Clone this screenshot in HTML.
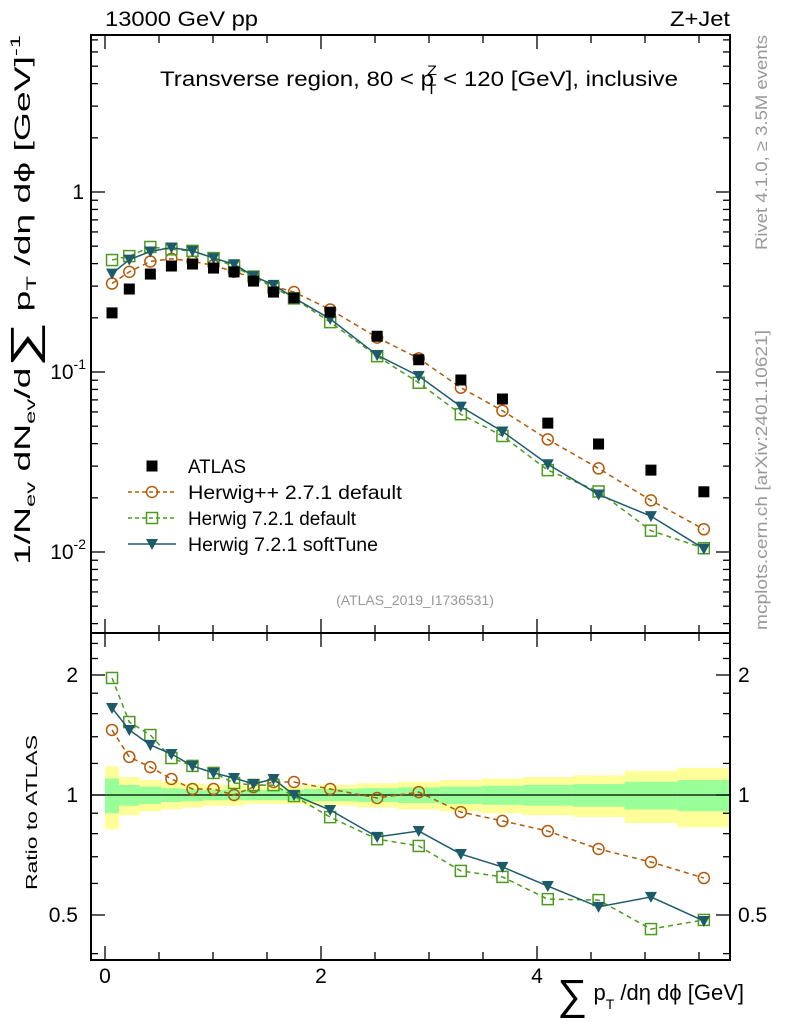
<!DOCTYPE html>
<html><head><meta charset="utf-8"><style>
html,body{margin:0;padding:0;background:#fff;}
svg{display:block;font-family:"Liberation Sans",sans-serif;}
</style></head><body>
<svg id="c" width="786" height="1024" viewBox="0 0 786 1024" xmlns="http://www.w3.org/2000/svg">
<g id="bands"></g>
<g id="main"></g>
<g id="ratio"></g>
<g id="axes"></g>
<text x="105" y="26" font-size="21" textLength="153" lengthAdjust="spacingAndGlyphs">13000 GeV pp</text>
<text x="670" y="26" font-size="21" textLength="60" lengthAdjust="spacingAndGlyphs">Z+Jet</text>
<text x="160" y="86" font-size="21" textLength="518" lengthAdjust="spacingAndGlyphs">Transverse region, 80 &lt; p<tspan font-size="14" dy="-11" dx="-6">Z</tspan><tspan font-size="14" dy="19" dx="-9">T</tspan><tspan dy="-8"> &lt; 120 [GeV], inclusive</tspan></text>
<text x="415" y="605" font-size="14" fill="#999" text-anchor="middle">(ATLAS_2019_I1736531)</text>
<text transform="translate(767,250) rotate(-90)" font-size="17" fill="#999" textLength="215" lengthAdjust="spacingAndGlyphs">Rivet 4.1.0, ≥ 3.5M events</text>
<text transform="translate(767,630) rotate(-90)" font-size="17" fill="#999" textLength="300" lengthAdjust="spacingAndGlyphs">mcplots.cern.ch [arXiv:2401.10621]</text>
<text transform="translate(30,565) rotate(-90)" font-size="22" textLength="530" lengthAdjust="spacingAndGlyphs">1/N<tspan font-size="14" dy="5">ev</tspan><tspan dy="-5"> dN</tspan><tspan font-size="14" dy="5">ev</tspan><tspan dy="-5">/d</tspan><tspan font-size="38" dy="7">∑</tspan><tspan dy="-7"> p</tspan><tspan font-size="14" dy="6">T</tspan><tspan dy="-6"> /dη dϕ  [GeV]</tspan><tspan font-size="14" dy="-10">-1</tspan></text>
<text transform="translate(37,890) rotate(-90)" font-size="16" textLength="155" lengthAdjust="spacingAndGlyphs">Ratio to ATLAS</text>
<text x="744" y="1000" font-size="22" text-anchor="end"><tspan font-size="42" dy="9">∑</tspan><tspan dy="-9"> p</tspan><tspan font-size="14" dy="9">T</tspan><tspan dy="-9"> /dη dϕ [GeV]</tspan></text>
<g id="legend"></g>
</svg>
<script>
const edges=[0,0.13,0.32,0.52,0.71,0.91,1.1,1.29,1.46,1.66,1.84,2.33,2.71,3.1,3.49,3.87,4.33,4.81,5.3,5.79];
const atlas=[0.213,0.289,0.350,0.388,0.398,0.378,0.360,0.320,0.278,0.258,0.215,0.158,0.117,0.0903,0.0708,0.052,0.0398,0.0285,0.0216];
const ratioHpp=[1.456,1.246,1.175,1.097,1.035,1.035,1.0,1.047,1.078,1.078,1.035,0.983,1.017,0.906,0.861,0.812,0.732,0.679,0.619];
const ratioH721=[1.966,1.524,1.414,1.238,1.183,1.136,1.072,1.059,1.059,0.994,0.88,0.775,0.745,0.645,0.623,0.548,0.545,0.461,0.486];
const ratioSoft=[1.653,1.456,1.335,1.267,1.183,1.136,1.103,1.066,1.097,1.0,0.917,0.785,0.812,0.711,0.66,0.591,0.524,0.555,0.483];
const yellowErr=[0.18,0.11,0.09,0.08,0.07,0.06,0.06,0.05,0.05,0.05,0.06,0.07,0.08,0.09,0.10,0.11,0.12,0.15,0.17];
const greenErr=[0.10,0.06,0.05,0.04,0.035,0.03,0.03,0.03,0.03,0.03,0.035,0.04,0.045,0.05,0.055,0.06,0.065,0.08,0.09];
const xTicks=[0,2,4];
const L=91,R=730,T=35,MB=633,RB=960;
const NS='http://www.w3.org/2000/svg';
const X=v=>105+v*108;
const Y=v=>192-180*Math.log10(v);
const YR=r=>795-120*Math.log2(r);
function mk(tag,attrs,parent){const e=document.createElementNS(NS,tag);for(const k in attrs)e.setAttribute(k,attrs[k]);parent.appendChild(e);return e;}
const centers=atlas.map((_,i)=>(edges[i]+edges[i+1])/2);
const bands=document.getElementById('bands'),main=document.getElementById('main'),ratio=document.getElementById('ratio'),axes=document.getElementById('axes'),legend=document.getElementById('legend');
for(let i=0;i<atlas.length;i++){
 const x0=X(edges[i]),x1=X(edges[i+1]);
 const y=mk('rect',{x:x0,y:YR(1+yellowErr[i]),width:x1-x0,height:YR(1-yellowErr[i])-YR(1+yellowErr[i]),fill:'#ffff99'},bands);
 
 
 const g=mk('rect',{x:x0,y:YR(1+greenErr[i]),width:x1-x0,height:YR(1-greenErr[i])-YR(1+greenErr[i]),fill:'#99ff99'},bands);
 
 
}
mk('line',{x1:L,x2:R,y1:YR(1),y2:YR(1),stroke:'#000','stroke-width':1.2},ratio);
const series=[
 {r:ratioHpp,col:'#b35a0a',dash:'5,4',m:'circle',name:'herwigpp-271'},
 {r:ratioH721,col:'#4c9a20',dash:'5,4',m:'square',name:'herwig-721-default'},
 {r:ratioSoft,col:'#1d5b6b',dash:'',m:'tri',name:'herwig-721-softtune'}];
function marker(m,x,y,col,parent,nm){
 let e;
 if(m==='circle')e=mk('circle',{cx:x,cy:y,r:5.5,fill:'none',stroke:col,'stroke-width':1.5},parent);
 else if(m==='square')e=mk('rect',{x:x-5.5,y:y-5.5,width:11,height:11,fill:'none',stroke:col,'stroke-width':1.5},parent);
 else if(m==='tri')e=mk('path',{d:`M${x-6},${y-5}L${x+6},${y-5}L${x},${y+6}Z`,fill:col},parent);
 else e=mk('rect',{x:x-5.5,y:y-5.5,width:11,height:11,fill:'#000'},parent);
 
 
}
series.forEach(s=>{
 const mp=centers.map((c,i)=>[X(c),Y(atlas[i]*s.r[i])]);
 const rp=centers.map((c,i)=>[X(c),YR(s.r[i])]);
 const l1=mk('polyline',{points:mp.map(p=>p.join(',')).join(' '),fill:'none',stroke:s.col,'stroke-width':1.5,'stroke-dasharray':s.dash},main);
 
 
 const l2=mk('polyline',{points:rp.map(p=>p.join(',')).join(' '),fill:'none',stroke:s.col,'stroke-width':1.5,'stroke-dasharray':s.dash},ratio);
 
 
 mp.forEach(p=>marker(s.m,p[0],p[1],s.col,main,s.name+'-point'));
 rp.forEach(p=>marker(s.m,p[0],p[1],s.col,ratio,s.name+'-ratio-point'));
});
centers.forEach((c,i)=>marker('sq',X(c),Y(atlas[i]),'#000',main,'atlas-point'));
const f1=mk('rect',{x:L,y:T,width:R-L,height:MB-T,fill:'none',stroke:'#000','stroke-width':2},axes);


const f2=mk('rect',{x:L,y:MB,width:R-L,height:RB-MB,fill:'none',stroke:'#000','stroke-width':2},axes);


for(let v=0;v<=5.75;v+=0.5){
 const maj=Math.abs(v-Math.round(v/2)*2)<1e-6,len=maj?14:8,x=X(v);
 [[T,1],[MB,1],[MB,-1],[RB,-1]].forEach(([y0,d])=>mk('line',{x1:x,x2:x,y1:y0,y2:y0+d*len,stroke:'#000','stroke-width':1.3},axes));
}
xTicks.forEach(v=>{const t=mk('text',{x:X(v),y:983,'font-size':21,'text-anchor':'middle'},axes);t.textContent=v;
 
 });
for(let d=-3;d<=0;d++)for(let k=1;k<=9;k++){
 const v=k*Math.pow(10,d),y=Y(v);if(y<T||y>MB)continue;
 const len=k===1?14:7;
 mk('line',{x1:L,x2:L+len,y1:y,y2:y,stroke:'#000','stroke-width':1.3},axes);
 mk('line',{x1:R,x2:R-len,y1:y,y2:y,stroke:'#000','stroke-width':1.3},axes);
}
[['1',192],['10','372','-1'],['10','552','-2']].forEach(a=>{
 const t=mk('text',{x:84,y:+a[1]+7,'font-size':21,'text-anchor':'end'},axes);
 if(a[2]){t.innerHTML=`10<tspan font-size="14" dy="-10">${a[2]}</tspan>`;t.setAttribute('x',86);}else t.textContent=a[0];
 
 
});
[0.4,0.5,0.6,0.7,0.8,0.9,1,1.2,1.4,1.6,1.8,2,2.2,2.4].forEach(v=>{
 const y=YR(v);if(y<MB||y>RB)return;const len=(v===0.5||v===1||v===2)?14:7;
 mk('line',{x1:L,x2:L+len,y1:y,y2:y,stroke:'#000','stroke-width':1.3},axes);
 mk('line',{x1:R,x2:R-len,y1:y,y2:y,stroke:'#000','stroke-width':1.3},axes);
});
[['2',2],['1',1],['0.5',0.5]].forEach(a=>{
 const t=mk('text',{x:78,y:YR(a[1])+7,'font-size':21,'text-anchor':'end'},axes);t.textContent=a[0];
 
 
 const t2=mk('text',{x:738,y:YR(a[1])+7,'font-size':21},axes);t2.textContent=a[0];
 
 
});
const leg=[['sq','#000','','ATLAS',58],['circle','#b35a0a','4,3','Herwig++ 2.7.1 default',214],['square','#4c9a20','4,3','Herwig 7.2.1 default',168],['tri','#1d5b6b','','Herwig 7.2.1 softTune',190]];
leg.forEach((e,i)=>{
 const y=466+i*26;
 if(e[0]!=='sq'){const l=mk('line',{x1:128,x2:176,y1:y,y2:y,stroke:e[1],'stroke-width':1.5,'stroke-dasharray':e[2]},legend);
 
 }
 marker(e[0],152,y,e[1],legend,'legend-marker');
 const t=mk('text',{x:188,y:y+7,'font-size':19,textLength:e[4],lengthAdjust:'spacingAndGlyphs'},legend);t.textContent=e[3];
 
 
});
</script>
</body></html>
